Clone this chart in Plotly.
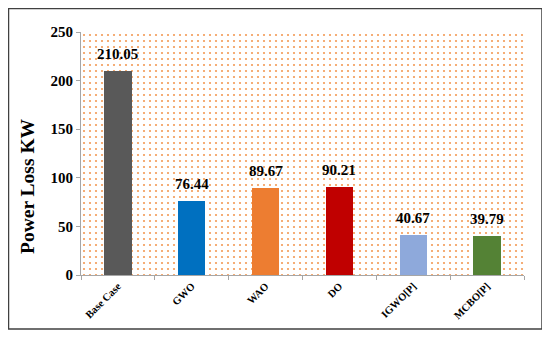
import plotly.graph_objects as go

categories = ["Base Case", "GWO", "WAO", "DO", "IGWO[P]", "MCBO[P]"]
power_loss = [210.05, 76.44, 89.67, 90.21, 40.67, 39.79]
bar_colors = ["#595959", "#0070C0", "#ED7D31", "#C00000", "#8EA9DB", "#548235"]
y_ticks = [0, 50, 100, 150, 200, 250]
y_title = "Power Loss KW"

# page has an 8px body margin, so the figure is drawn 8px in from the window edge
OFF = 8
W, H = 550 - OFF, 338 - OFF
L, R, T, B = 81 - OFF, 550 - 524, 32 - OFF, 338 - 275
pw, ph = W - L - R, H - T - B

def px_x(x):  # window pixel -> paper x
    return (x - OFF - L) / pw

def px_y(y):  # window pixel -> paper y
    return (H - B - (y - OFF)) / ph

font_family = "Liberation Serif, Times New Roman, serif"

fig = go.Figure()

# dotted background pattern (plot-area fill), drawn on the base axis
fig.add_trace(go.Bar(
    x=[0.5], y=[max(y_ticks)], width=[1], xaxis="x", yaxis="y",
    marker=dict(color="rgba(0,0,0,0)", line=dict(width=0),
                pattern=dict(shape=".", fgcolor="#F39A55", bgcolor="white",
                             size=6, solidity=0.1, fillmode="replace")),
    hoverinfo="skip", showlegend=False,
))

fig.add_trace(go.Bar(
    x=categories, y=power_loss, xaxis="x2", yaxis="y",
    marker=dict(color=bar_colors, line=dict(width=0)),
    width=0.37,
    showlegend=False,
))

annotations = [
    dict(x=c, y=v, xref="x2", yref="y", text=f"{v:.2f}", showarrow=False,
         yanchor="middle", yshift=17,
         font=dict(family=font_family, size=15, color="black", weight="bold"))
    for c, v in zip(categories, power_loss)
]
annotations.append(dict(
    x=px_x(27), y=px_y(186), xref="paper", yref="paper", text=y_title,
    textangle=-90, showarrow=False, xanchor="center", yanchor="middle",
    font=dict(family=font_family, size=19.5, color="black", weight="bold"),
))

fig.update_layout(
    width=W, height=H,
    margin=dict(l=L, r=R, t=T, b=B, autoexpand=False),
    paper_bgcolor="white", plot_bgcolor="white",
    font=dict(family=font_family, color="black"),
    xaxis=dict(range=[0, 1], visible=False, fixedrange=True),
    xaxis2=dict(
        overlaying="x", side="bottom",
        type="category", showgrid=False, showline=True, linecolor="#a6a6a6",
        ticks="outside", tickson="boundaries", ticklen=4, tickcolor="#a6a6a6",
        tickangle=-45,
        tickfont=dict(family=font_family, size=10.5, color="black", weight="bold"),
        range=[-0.5, 5.5],
    ),
    yaxis=dict(
        range=[0, 250], tickvals=y_ticks, showgrid=False,
        showline=True, linecolor="#a6a6a6", ticks="outside", ticklen=4,
        tickcolor="#a6a6a6",
        tickfont=dict(family=font_family, size=15, color="black", weight="bold"),
    ),
    bargap=0, barmode="overlay",
    annotations=annotations,
    shapes=[dict(
        type="rect", xref="paper", yref="paper",
        x0=px_x(8.5), x1=px_x(542),
        y0=px_y(329), y1=px_y(8.5),
        line=dict(color="#404040", width=1.5), fillcolor="rgba(0,0,0,0)",
        layer="below",
    )],
)

fig.write_html("out.html")
